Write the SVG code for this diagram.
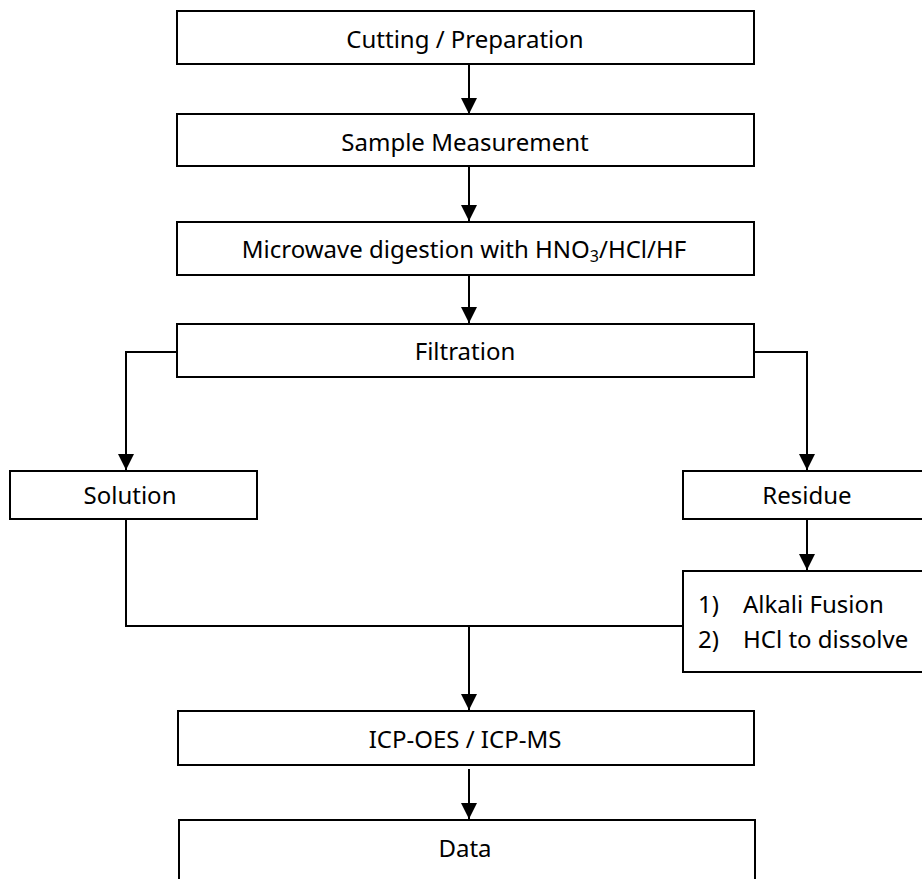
<svg xmlns="http://www.w3.org/2000/svg" width="922" height="879" viewBox="0 0 922 879">
<style>
.box{fill:#fff;stroke:#000;stroke-width:2}
.t{font-family:"Noto Sans","Open Sans",sans-serif;font-size:24px;fill:#000;text-anchor:middle}
.tl{font-family:"Noto Sans","Open Sans",sans-serif;font-size:24px;fill:#000}
.c{fill:none;stroke:#000;stroke-width:2}
</style>
<defs>
<marker id="a" markerWidth="16" markerHeight="16" refX="16" refY="8" orient="auto" markerUnits="userSpaceOnUse" viewBox="0 0 16 16">
<path d="M0,0 L16,8 L0,16 Z" fill="#000"/>
</marker>
</defs>
<g id="connectors">
<path class="c" d="M469,64 V114" marker-end="url(#a)"/>
<path class="c" d="M469,166 V221" marker-end="url(#a)"/>
<path class="c" d="M469,275 V323" marker-end="url(#a)"/>
<path class="c" d="M177,352 H126 V470" marker-end="url(#a)"/>
<path class="c" d="M754,352 H807 V470" marker-end="url(#a)"/>
<path class="c" d="M807,519 V570" marker-end="url(#a)"/>
<path class="c" d="M126,519 V626 H683"/>
<path class="c" d="M469,626 V710" marker-end="url(#a)"/>
<path class="c" d="M469,769 V819" marker-end="url(#a)"/>
</g>
<g id="n1"><rect class="box" x="177" y="11" width="577" height="53"/><text class="t" x="465" y="48">Cutting / Preparation</text></g>
<g id="n2"><rect class="box" x="177" y="114" width="577" height="52"/><text class="t" x="465" y="151">Sample Measurement</text></g>
<g id="n3"><rect class="box" x="177" y="222" width="577" height="53"/><text class="t" x="464" y="258">Microwave digestion with HNO<tspan font-size="16" dy="4">3</tspan><tspan dy="-4">/HCl/HF</tspan></text></g>
<g id="n4"><rect class="box" x="177" y="324" width="577" height="53"/><text class="t" x="465" y="360">Filtration</text></g>
<g id="n5"><rect class="box" x="10" y="471" width="247" height="48"/><text class="t" x="130" y="504">Solution</text></g>
<g id="n6"><rect class="box" x="683" y="471" width="250" height="48"/><text class="t" x="807" y="504">Residue</text></g>
<g id="n7"><rect class="box" x="683" y="571" width="250" height="101"/><text class="tl" x="698" y="613">1)</text><text class="tl" x="743" y="613">Alkali Fusion</text><text class="tl" x="698" y="648">2)</text><text class="tl" x="743" y="648">HCl to dissolve</text></g>
<g id="n8"><rect class="box" x="178" y="711" width="576" height="54"/><text class="t" x="465" y="748">ICP-OES / ICP-MS</text></g>
<g id="n9"><rect class="box" x="179" y="820" width="576" height="70"/><text class="t" x="465" y="857">Data</text></g>
</svg>
